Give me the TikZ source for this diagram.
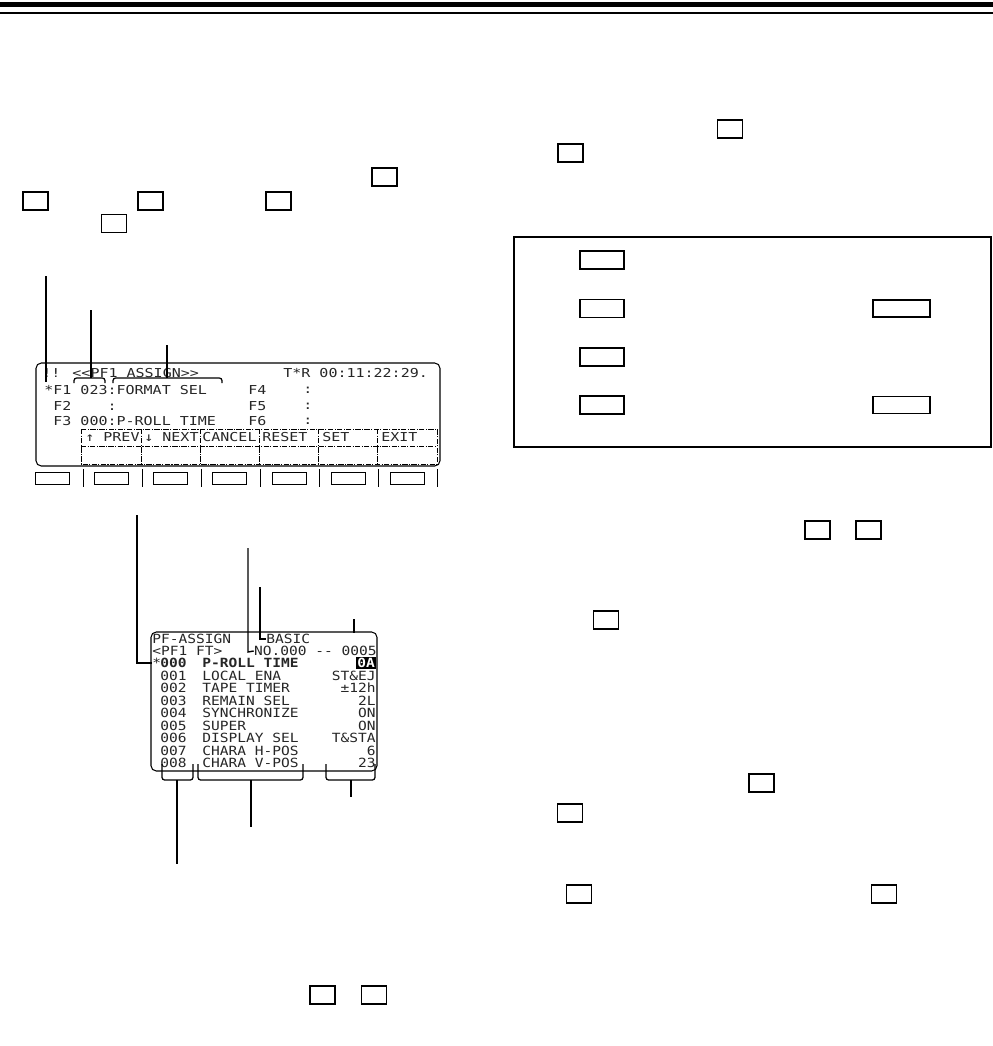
\documentclass[tikz,border=0pt]{standalone}
\usepackage{fontspec}
\newfontfamily\lcdfont[FakeStretch=1.22]{DejaVu Sans Mono}
\newfontfamily\lcdlist[FakeStretch=1.15]{DejaVu Sans Mono}
\usetikzlibrary{positioning}

\begin{document}
\begin{tikzpicture}[x=0.02cm, y=-0.02cm,
    keybox/.style ={draw=black, line width=0.8pt, minimum width=0.5cm,
                    minimum height=0.36cm, inner sep=0pt},
    widekey/.style={keybox, minimum width=0.88cm},
    longkey/.style={keybox, minimum width=1.14cm, minimum height=0.34cm},
    fkey/.style   ={draw=black, line width=0.5pt, minimum width=0.68cm,
                    minimum height=0.24cm, inner sep=0pt},
    lcdtxt/.style ={anchor=west, inner sep=0pt, text=black!85,
                    font=\lcdfont\fontsize{7}{7}\selectfont},
    listtxt/.style={anchor=west, inner sep=0pt, text=black!85,
                    font=\lcdlist\fontsize{7.2}{7.2}\selectfont},
    listbold/.style={listtxt, font=\lcdlist\bfseries\fontsize{7.2}{7.2}\selectfont},
    leader/.style ={line width=0.8pt},
    brace/.style  ={line width=0.7pt, rounded corners=1.5pt},
    dotgrid/.style={line width=0.5pt, dash pattern=on 3pt off 0.8pt on 0.6pt off 0.8pt}
  ]
    \useasboundingbox (0,0) rectangle (993,1046);

    % --- page header rules ---
    \fill (0,2) rectangle (993,7);
    \fill (0,12) rectangle (993,14);

    % --- key symbols in the left column text ---
    \node[keybox] (kA) at (384.5,177) {};
    \node[keybox] (kB) at (35.5,201) {};
    \node[keybox] (kC) at (150.5,201) {};
    \node[keybox] (kD) at (278.5,201) {};
    \node[keybox] (kE) at (114,223.5) {};

    % --- key symbols in the right column text ---
    \node[keybox] (kF) at (730,129) {};
    \node[keybox] (kG) at (570.5,153) {};

    % framed note with its keys
    \draw[line width=0.9pt] (514,237) rectangle (991,447);
    \node[widekey] (nk1) at (602,260) {};
    \node[widekey] (nk2) at (602,308.5) {};
    \node[widekey] (nk3) at (602,357) {};
    \node[widekey] (nk4) at (602,405) {};
    \node[longkey] (nk5) at (901.5,308.5) {};
    \node[longkey] (nk6) at (901.5,405) {};

    \node[keybox] (kH) at (817.5,530) {};
    \node[keybox] (kI) at (868.5,530) {};
    \node[keybox] (kJ) at (606,620) {};
    \node[keybox] (kK) at (761.5,783) {};
    \node[keybox] (kL) at (570,813) {};
    \node[keybox] (kM) at (579,894) {};
    \node[keybox] (kN) at (884,894) {};
    \node[keybox] (kO) at (322.5,995) {};
    \node[keybox] (kP) at (374,995) {};

    % --- PF1 ASSIGN screen ---
    \draw[line width=0.6pt, rounded corners=3pt] (36,363) rectangle (440,466);
    \node[lcdtxt] (ttl) at (42,373) {!! <<PF1 ASSIGN>>};
    \node[lcdtxt] (tcr) at (283,373) {T*R 00:11:22:29.};
    \node[lcdtxt] (pf1) at (44,390) {*F1 023:FORMAT SEL};
    \node[lcdtxt] (pf2) at (44,406) {\hphantom{*}F2\hphantom{x023}:};
    \node[lcdtxt] (pf3) at (44,421) {\hphantom{*}F3 000:P-ROLL TIME};
    \node[lcdtxt] (pf4) at (248,390) {F4};
    \node[lcdtxt] (pf5) at (248,406) {F5};
    \node[lcdtxt] (pf6) at (248,421) {F6};
    \foreach \y in {390,406,421}
      \node[lcdtxt] at (303,\y) {:};
    % soft key menu
    \draw[dotgrid] (81,429) rectangle (437,464);
    \draw[dotgrid] (81,446) -- (437,446);
    \foreach \i in {0,...,4}
      \draw[dotgrid] (141+59*\i,429) -- (141+59*\i,464);
    \foreach \x/\lab in {85/↑ PREV, 144/↓ NEXT, 202/CANCEL, 262/RESET, 322/SET, 381/EXIT}
      \node[lcdtxt] at (\x,437) {\lab};
    % function keys under the screen
    \foreach \i in {0,...,6} {
      \node[fkey] (fk\i) at (52+59.25*\i,478) {};
      \draw[line width=0.5pt] (83+59*\i,469) -- (83+59*\i,487);
    }
    % leaders
    \coordinate (lA) at (46,276);
    \coordinate (lB) at (91,310);
    \coordinate (lC) at (167,345);
    \draw[leader] (lA) -- (46,382);
    \draw[brace] (74,383) -- (74,378) -- (105,378) -- (105,383);
    \draw[brace] (113,383) -- (113,378) -- (222,378) -- (222,383);
    \draw[leader] (lB) -- (91,378);
    \draw[leader] (lC) -- (167,378);

    % --- PF-ASSIGN list screen ---
    \draw[line width=0.6pt, rounded corners=3pt] (151,632) rectangle (377,771);
    \node[listtxt] (hd1) at (152,639) {PF-ASSIGN};
    \node[listtxt] (hd2) at (266,639) {BASIC};
    \node[listtxt] (hd3) at (152,651) {<PF1 FT>};
    \node[listtxt, anchor=east] (hd4) at (377,651) {NO.000 -- 0005};
    \node[listtxt] (cur) at (152,663) {*};
    \node[listbold] (n2) at (160,663) {000};
    \node[listbold] (nm2) at (202,663) {P-ROLL TIME};
    \node[listbold, anchor=east, fill=black, text=white, inner sep=0.5pt] (v2) at (376,663) {0A};
    \foreach \i/\num/\name/\val in {3/001/LOCAL ENA/ST\&EJ, 4/002/TAPE TIMER/±12h,
        5/003/REMAIN SEL/2L, 6/004/SYNCHRONIZE/ON, 7/005/SUPER/ON,
        8/006/DISPLAY SEL/T\&STA, 9/007/CHARA H-POS/6, 10/008/CHARA V-POS/23} {
      \node[listtxt] (n\i) at (160,638+12.5*\i) {\num};
      \node[listtxt] (nm\i) at (202,638+12.5*\i) {\name};
      \node[listtxt, anchor=east] (v\i) at (376,638+12.5*\i) {\val};
    }
    % leaders from above
    \coordinate (lD) at (137,515);
    \coordinate (lE) at (248,548);
    \coordinate (lF) at (260,587);
    \coordinate (lG) at (354,619);
    \draw[leader] (lD) -- (137,663) -- (cur.west);
    \draw[leader] (lE) -- (248,652) -- (hd4.west);
    \draw[leader] (lF) -- (260,639) -- (hd2.west);
    \draw[leader] (lG) -- (354,633);
    % column braces and leaders below
    \draw[brace] (162,764) -- (162,780) -- (193,780) -- (193,764);
    \draw[brace] (198,764) -- (198,780) -- (303,780) -- (303,764);
    \draw[brace] (326,764) -- (326,780) -- (375,780) -- (375,764);
    \coordinate (lH) at (177,864);
    \coordinate (lI) at (251,827);
    \coordinate (lJ) at (351,797);
    \draw[leader] (177,780) -- (lH);
    \draw[leader] (251,780) -- (lI);
    \draw[leader] (351,780) -- (lJ);
  \end{tikzpicture}
\end{document}
